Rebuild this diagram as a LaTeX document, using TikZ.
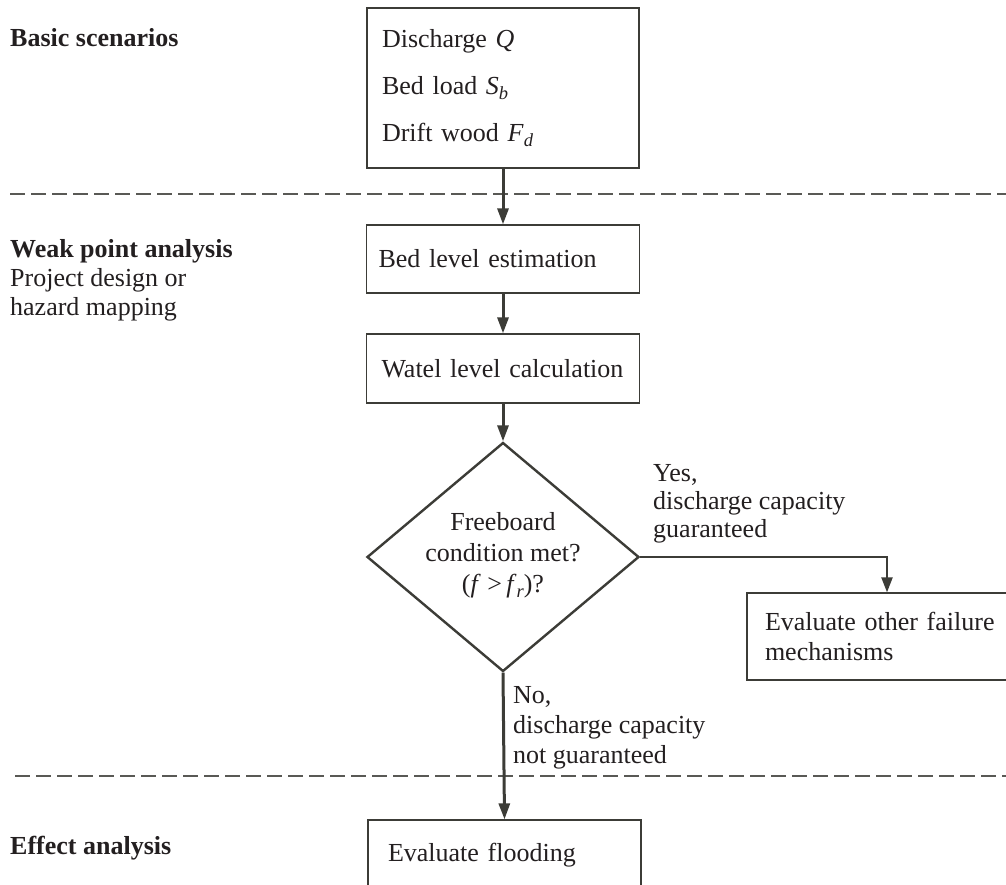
\documentclass[tikz,border=0pt]{standalone}
\usepackage{fontspec}
\setmainfont{Liberation Serif}
\usetikzlibrary{shapes.geometric,arrows.meta}
\definecolor{ink}{HTML}{231F20}
\definecolor{ln}{HTML}{3C3C37}
\newcommand{\sbs}[1]{\raisebox{-0.45ex}{\fontsize{18.5}{18.5}\selectfont\textit{#1}}}
\begin{document}
\begin{tikzpicture}[x=1pt,y=-1pt,
  box/.style={draw=ln, line width=1.3pt, rectangle, text=ink, align=left, inner ysep=0pt},
  arr/.style={draw=ln, line width=3pt, -{Triangle[length=16pt,width=11pt]}},
  lbl/.style={text=ink, inner sep=0pt, anchor=west, align=left},
  sepline/.style={draw=ln!85, line width=1.4pt, dash pattern=on 15pt off 6pt}
]
\useasboundingbox (0,0) rectangle (1006,884);
\clip (0,0) rectangle (1006,884);
\fill[white] (0,0) rectangle (1006,884);

% separator lines
\draw[sepline] (10,194) -- (1006,194);
\draw[sepline] (15,776) -- (1006,776);

% left labels
\node[lbl, font=\fontsize{26}{29}\selectfont] (basic) at (10,38) {\textbf{Basic scenarios}};
\node[lbl, font=\fontsize{26}{29}\selectfont] (weak) at (10,280) {\textbf{Weak point analysis}\\Project design or\\hazard mapping};
\node[lbl, font=\fontsize{26}{29}\selectfont] (effect) at (10,848) {\textbf{Effect analysis}};

% boxes
\node[box, minimum width=272pt, minimum height=160pt, text width=242pt, inner xsep=15pt,
  font=\fontsize{26}{47}\selectfont] (scen) at (503,88)
  {Discharge \textit{Q}\\Bed load \textit{S}\sbs{b}\\Drift wood \textit{F}\sbs{d}};
\node[box, minimum width=273pt, minimum height=68pt, text width=249pt, inner xsep=12pt,
  font=\fontsize{26}{30}\selectfont] (bed) at (503,259) {Bed level estimation};
\node[box, minimum width=273pt, minimum height=69pt, text width=243pt, inner xsep=15pt,
  font=\fontsize{26}{30}\selectfont] (wat) at (503,368.5) {Watel level calculation};
\node[draw=ln, line width=2.4pt, diamond, minimum width=272pt, minimum height=229pt, inner sep=0pt] (dia) at (503,557) {};
\node[text=ink, inner sep=0pt, align=center, font=\fontsize{26}{31}\selectfont] (dtext) at (503,555)
  {Freeboard\\condition met?\\(\textit{f} >\,\textit{f}\sbs{r})?};
\node[box, minimum width=280pt, minimum height=87pt, text width=244pt, inner xsep=18pt,
  font=\fontsize{26}{30}\selectfont] (other) at (887,636.5) {Evaluate other failure\\mechanisms};
\node[box, minimum width=273pt, minimum height=70pt, text width=233pt, inner xsep=20pt,
  font=\fontsize{26}{30}\selectfont] (flood) at (504.5,855) {Evaluate flooding};

% branch labels
\node[lbl, font=\fontsize{26}{28}\selectfont] (yes) at (653,504) {Yes,\\discharge capacity\\guaranteed};
\node[lbl, font=\fontsize{26}{30}\selectfont] (no) at (513,728) {No,\\discharge capacity\\not guaranteed};

% connectors
\draw[arr] (scen.south) -- (bed.north);
\draw[arr] (bed.south) -- (wat.north);
\draw[arr] (wat.south) -- (dia.north);
\draw[draw=ln, line width=2.2pt, -{Triangle[length=15pt,width=11pt]}] (dia.east) -| (other.north);
\draw[arr] (dia.south) -- (flood.north);
\end{tikzpicture}
\end{document}
